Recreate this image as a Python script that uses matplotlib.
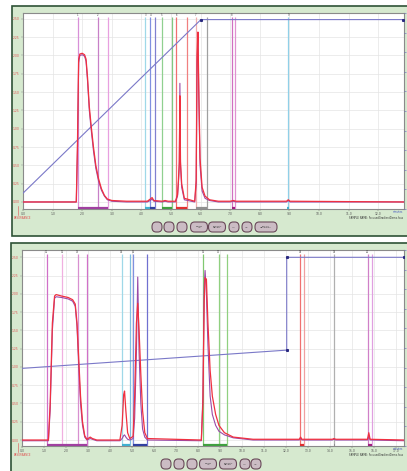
import matplotlib.pyplot as plt
from matplotlib.patches import Rectangle, FancyBboxPatch

# ---------------- data: run 1 (top) ----------------
top_x = [0.0, 1.80, 1.84, 1.88, 1.92, 2.00, 2.08, 2.13, 2.18, 2.24, 2.30, 2.38, 2.46,
         2.55, 2.65, 2.75, 2.85, 3.0, 3.5, 4.2, 4.3, 4.36, 4.42, 4.7, 4.8, 4.9, 5.15,
         5.22, 5.25, 5.28, 5.30, 5.32, 5.36, 5.45, 5.80, 5.85, 5.88, 5.91, 5.94, 5.98,
         6.05, 6.15, 6.3, 6.6, 7.0, 7.1, 7.2, 8.9, 8.96, 9.02, 12.9]
top_red = [0.0, 0.0, 0.8, 1.95, 2.02, 2.03, 2.01, 1.95, 1.70, 1.30, 1.05, 0.75, 0.50,
           0.32, 0.18, 0.09, 0.04, 0.02, 0.01, 0.01, 0.04, 0.06, 0.02, 0.01, 0.02, 0.01, 0.01,
           0.10, 0.30, 0.55, 1.45, 0.55, 0.25, 0.05, 0.01, 0.3, 2.0, 2.32, 1.5, 0.6,
           0.2, 0.08, 0.03, 0.01, 0.01, 0.02, 0.01, 0.01, 0.03, 0.01, 0.0]
top_pur = [0.0, 0.0, 0.7, 1.9, 2.0, 2.01, 1.99, 1.92, 1.65, 1.25, 1.0, 0.7, 0.46,
           0.29, 0.16, 0.08, 0.03, 0.01, 0.0, 0.0, 0.02, 0.04, 0.01, 0.0, 0.01, 0.0, 0.0,
           0.08, 0.25, 0.5, 1.62, 0.5, 0.2, 0.03, 0.0, 0.25, 1.9, 2.25, 1.4, 0.5,
           0.15, 0.05, 0.02, 0.0, 0.0, 0.01, 0.0, 0.0, 0.02, 0.0, 0.0]
top_grad_x = [0.0, 6.01, 12.85]
top_grad_y = [0.12, 2.49, 2.49]
top_frac_lines = [1.85, 2.52, 2.86, 4.13, 4.30, 4.46, 4.70, 5.04, 5.18, 5.55, 5.83, 6.20, 7.05, 7.16, 8.96]
top_frac_colors = ['#d890d8', '#c880c8', '#e8a0e0', '#9fd8e8', '#8090e0', '#8080d0', '#90d090', '#80c880',
                   '#f07070', '#f08080', '#f0b0b0', '#a0a0a0', '#d070c0', '#e090d0', '#90d0e8']
top_bars = [(1.85, 2.86, '#a040a0'), (4.13, 4.30, '#40b0d0'), (4.30, 4.46, '#3040a0'),
            (4.70, 5.04, '#40a040'), (5.18, 5.55, '#e03030'), (5.83, 6.20, '#909090'),
            (7.05, 7.16, '#a02080'), (8.93, 8.99, '#40b0d0')]
top_labels = [(1.85, '1'), (2.52, '2'), (4.13, '3'), (4.30, '4'), (4.70, '5'), (5.18, '6'),
              (5.83, '7'), (7.05, '8'), (8.96, '9')]

# ---------------- data: run 2 (bottom) ----------------
bot_x = [0.0, 1.2, 1.28, 1.38, 1.48, 1.55, 1.8, 2.1, 2.3, 2.42, 2.5, 2.58, 2.66, 2.75,
         2.85, 2.95, 3.1, 3.2, 3.4, 4.45, 4.55, 4.62, 4.66, 4.72, 4.8, 4.9, 5.05, 5.12,
         5.2, 5.26, 5.32, 5.4, 5.48, 5.58, 5.7, 8.15, 8.22, 8.28, 8.32, 8.38, 8.45, 8.55,
         8.65, 8.8, 8.95, 9.2, 9.6, 10.5, 12.6, 12.66, 12.72, 14.1, 14.18, 14.26, 15.7,
         15.76, 15.82, 17.4]
bot_red = [0.0, 0.0, 0.5, 1.6, 1.97, 1.99, 1.97, 1.95, 1.92, 1.86, 1.6, 1.1, 0.6, 0.25,
           0.06, 0.01, 0.04, 0.02, 0.0, 0.0, 0.2, 0.62, 0.67, 0.4, 0.1, 0.02, 0.05, 0.6,
           1.6, 1.87, 1.5, 0.9, 0.4, 0.1, 0.02, 0.0, 0.5, 1.9, 2.22, 2.2, 1.6, 0.95,
           0.6, 0.35, 0.2, 0.1, 0.04, 0.01, 0.01, 0.04, 0.01, 0.01, 0.02, 0.01, 0.01,
           0.1, 0.01, 0.0]
bot_pur = [-0.01, -0.01, 0.4, 1.5, 1.94, 1.96, 1.95, 1.93, 1.9, 1.83, 1.55, 1.0, 0.5, 0.2,
           0.04, 0.0, 0.02, 0.01, -0.01, -0.01, 0.02, 0.06, 0.07, 0.04, 0.01, 0.0, 0.02, 0.3,
           1.2, 2.23, 1.2, 0.5, 0.15, 0.04, 0.0, -0.01, 0.6, 2.1, 2.32, 2.0, 1.3, 0.6,
           0.35, 0.2, 0.12, 0.07, 0.03, 0.0, 0.0, 0.02, 0.0, 0.0, 0.01, 0.0, 0.0,
           0.05, 0.0, -0.01]
bot_grad_x = [0.0, 12.03, 12.03, 17.35]
bot_grad_y = [0.98, 1.23, 2.5, 2.5]
bot_frac_lines = [1.12, 1.83, 2.53, 2.94, 4.53, 4.92, 5.06, 5.67, 8.23, 8.94, 9.30, 12.64, 12.82, 14.20, 15.71, 15.90]
bot_frac_colors = ['#d070c8', '#f0b0e0', '#d890d0', '#d070c8', '#9fd8e8', '#80c0e0', '#8090e0', '#7070d0',
                   '#80c870', '#90d080', '#90d080', '#f07070', '#f0a0a0', '#b0b0b0', '#d080c8', '#e0a0e0']
bot_bars = [(1.12, 2.94, '#a040a0'), (4.53, 4.92, '#40b0d0'), (5.06, 5.67, '#3040a0'),
            (8.23, 9.30, '#40a040'), (12.64, 12.82, '#e03030'), (14.17, 14.23, '#909090'),
            (15.71, 15.90, '#a02080')]
bot_labels = [(1.12, '11'), (1.83, '12'), (2.53, '13'), (4.53, '14'), (5.06, '15'),
              (8.23, '16'), (8.94, '17'), (12.64, '18'), (14.20, '19'), (15.71, '20')]

y_ticks = [0.0, 0.25, 0.5, 0.75, 1.0, 1.25, 1.5, 1.75, 2.0, 2.25, 2.5]
buttons_top = ['', '', '', 'ZOOM\nIN', 'FORMAT\nGRAPH', '<<', '>>', 'FOCUS\nGRADIENT']
buttons_bot = ['', '', '', 'ZOOM\nIN', 'FORMAT\nGRAPH', '<<', '>>']

W, H = 407, 471
fig = plt.figure(figsize=(W / 100, H / 100), dpi=100)
fig.patch.set_facecolor('white')


def px_box(x0, y0, x1, y1):
    return [x0 / W, 1 - y1 / H, (x1 - x0) / W, (y1 - y0) / H]


# green panel frames
for (x0, y0, x1, y1) in [(12, 6, 410, 236), (11, 243, 410, 474)]:
    b = px_box(x0, y0, x1, y1)
    fig.patches.append(Rectangle((b[0], b[1]), b[2], b[3], transform=fig.transFigure,
                                 facecolor='#d6e9cf', edgecolor='#2e5236', lw=1.2, zorder=-10))


def draw_buttons(labels, centers, yc):
    for lab, xc in zip(labels, centers):
        w = 10 if len(lab) < 4 else (17 if 'GRADIENT' not in lab else 22)
        b = px_box(xc - w / 2, yc - 5, xc + w / 2, yc + 5)
        fig.patches.append(FancyBboxPatch((b[0], b[1]), b[2], b[3], transform=fig.transFigure,
                                          boxstyle='round,pad=0,rounding_size=0.01',
                                          facecolor='#cbbcc4', edgecolor='#6a4a5a', lw=0.8, zorder=1))
        fig.text(xc / W, 1 - yc / H, lab, fontsize=1.6, ha='center', va='center', color='#333333')


def make_panel(box, xs, red, pur, gx, gy, lines, colors, bars, labels, xmax, ylo, yhi, xticks):
    ax = fig.add_axes(px_box(*box))
    ax.set_facecolor('white')
    ax.set_xlim(0, xmax)
    ax.set_ylim(ylo, yhi)
    ax.set_xticks(xticks)
    ax.set_xticklabels([f'{t:.1f}' for t in xticks])
    ax.set_yticks(y_ticks)
    ax.set_yticklabels([f'{t:.2f}' for t in y_ticks])
    ax.tick_params(axis='x', labelsize=2.2, colors='#555555', length=1.5, width=0.3, pad=1)
    ax.tick_params(axis='y', labelsize=2.2, labelcolor='#e05050', color='#888888', length=1.5, width=0.3, pad=1)
    ax.grid(True, color='#e4e4e4', lw=0.5)
    ax.set_axisbelow(True)
    for s in ax.spines.values():
        s.set_color('#8a8a8a')
        s.set_linewidth(0.8)
    for xv, c in zip(lines, colors):
        ax.vlines(xv, ylo, yhi - 0.06, color=c, lw=0.9, zorder=2)
    for x0, x1, c in bars:
        ax.hlines(ylo + 0.012, x0, x1, color=c, lw=1.6, zorder=3)
    for xv, lab in labels:
        ax.text(xv, yhi - 0.03, lab, fontsize=1.8, ha='center', va='center', color='#444444')
    ax.plot(gx, gy, color='#7a78c8', lw=0.8, zorder=3)
    ax.plot(gx[1:], gy[1:], 's', color='#2a2a80', ms=1.2, zorder=4)
    ax.plot(xs, pur, color='#9a4aa8', lw=0.8, zorder=4)
    ax.plot(xs, red, color='#f03040', lw=0.9, zorder=5)
    # right secondary ticks
    ax2 = ax.twinx()
    ax2.set_ylim(0, 100)
    ax2.set_yticks(range(0, 101, 10))
    ax2.set_yticklabels([])
    ax2.tick_params(axis='y', length=1.5, width=0.4, color='#6060c0')
    for s in ax2.spines.values():
        s.set_visible(False)
    return ax


ax1 = make_panel((23, 13, 404, 209), top_x, top_red, top_pur, top_grad_x, top_grad_y,
                 top_frac_lines, top_frac_colors, top_bars, top_labels,
                 12.87, -0.096, 2.58, [float(i) for i in range(13)])
ax2 = make_panel((22, 250, 404, 446), bot_x, bot_red, bot_pur, bot_grad_x, bot_grad_y,
                 bot_frac_lines, bot_frac_colors, bot_bars, bot_labels,
                 17.36, -0.082, 2.6, [float(i) for i in range(18)])

# small captions
for ytxt, yline in [(218, 206), (455, 443)]:
    fig.text(14 / W, 1 - ytxt / H, 'ABSORBANCE', fontsize=1.8, color='#e05050', va='center')
    fig.lines.append(plt.Line2D([18 / W, 18 / W], [1 - yline / H, 1 - (yline + 9) / H],
                                transform=fig.transFigure, color='#e05050', lw=0.4))
for ymin, ysn in [(212, 218), (449, 455)]:
    fig.text(403 / W, 1 - ymin / H, 'minutes', fontsize=1.8, color='#4050c0', ha='right', va='center')
    fig.text(403 / W, 1 - ysn / H, 'SAMPLE NAME: FocusedGradientDemo.fcus', fontsize=1.8,
             color='#333333', ha='right', va='center')

draw_buttons(buttons_top, [157, 169, 182, 199, 217, 234, 247, 266], 227)
draw_buttons(buttons_bot, [166, 179, 192, 208, 228, 245, 256], 464)

fig.savefig('out.png', dpi=100)
